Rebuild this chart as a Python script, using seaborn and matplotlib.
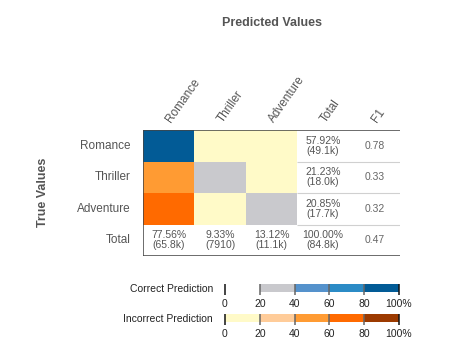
import numpy as np
import pandas as pd
import matplotlib
matplotlib.use("Agg")
import matplotlib.pyplot as plt
import seaborn as sns
from matplotlib.colors import ListedColormap
from matplotlib.transforms import ScaledTranslation

# ---------------- data ----------------
classes = ['Romance', 'Thriller', 'Adventure']
# confusion counts (rows = true, cols = predicted)
romance_row = [45000, 1200, 2910]
thriller_row = [10120, 4300, 3580]
adventure_row = [10680, 2410, 4610]
row_pct = ['57.92%', '21.23%', '20.85%']
row_n = ['(49.1k)', '(18.0k)', '(17.7k)']
col_pct = ['77.56%', '9.33%', '13.12%', '100.00%']
col_n = ['(65.8k)', '(7910)', '(11.1k)', '(84.8k)']
f1_scores = ['0.78', '0.33', '0.32', '0.47']
legend_ticks = [0, 20, 40, 60, 80, 100]

correct_colors = ['#ffffff', '#c9c9cd', '#5592cc', '#2b8bc6', '#025b96']
incorrect_colors = ['#fffac8', '#ffcc99', '#ff9b33', '#ff6a00', '#9c3a00']

sns.set_style("white")
plt.rcParams['font.family'] = ['Liberation Sans', 'DejaVu Sans']

cm = np.array([romance_row, thriller_row, adventure_row], dtype=float)
pct = cm / cm.sum(axis=1, keepdims=True) * 100
bins = np.minimum(pct // 20, 4).astype(int)
idx = np.where(np.eye(3, dtype=bool), bins, bins + 5)

# 4x5 grid: matrix + Total column + F1 column + Total row
grid = np.full((4, 5), np.nan)
grid[:3, :3] = idx
df = pd.DataFrame(grid, index=classes + ['Total'],
                  columns=classes + ['Total', 'F1'])

fig = plt.figure(figsize=(4.7, 3.53), dpi=100)
ax = fig.add_axes([143 / 470, 1 - 256 / 353, 257 / 470, 126 / 353])
cmap = ListedColormap(correct_colors + incorrect_colors)
sns.heatmap(df, mask=np.isnan(grid), cmap=cmap, vmin=-0.5, vmax=9.5,
            cbar=False, linewidths=0, ax=ax)

txt = '#555555'
# row totals and F1
for i in range(3):
    ax.text(3.5, i + 0.5, row_pct[i] + '\n' + row_n[i], ha='center',
            va='center', fontsize=7.5, color=txt, linespacing=0.95)
for i in range(4):
    ax.text(4.5, i + 0.5, f1_scores[i], ha='center', va='center',
            fontsize=7.5, color='#666666')
for j in range(4):
    ax.text(j + 0.5, 3.5, col_pct[j] + '\n' + col_n[j], ha='center',
            va='center', fontsize=7.5, color=txt, linespacing=0.95)

# borders
ax.hlines([1, 2, 3], 3, 5, color='#d0d0d0', lw=0.8)
ax.hlines([0, 4], 0, 5, color='#444444', lw=1.1)
ax.vlines(0, 0, 4, color='#444444', lw=1.1)

ax.xaxis.tick_top()
ax.set_xticks(np.arange(5) + 0.5)
ax.set_xticklabels(df.columns, rotation=55, ha='left', va='center',
                   rotation_mode='anchor', fontsize=8.5, color=txt)
shift = ScaledTranslation(-6 / 100, 0, fig.dpi_scale_trans)
for lbl in ax.get_xticklabels():
    lbl.set_transform(lbl.get_transform() + shift)
ax.set_yticklabels(df.index, rotation=0, fontsize=8.5, color=txt)
ax.tick_params(length=0)
ax.tick_params(axis='x', pad=6)
ax.tick_params(axis='y', pad=9)
ax.set_xlabel('')
ax.set_ylabel('')
for s in ax.spines.values():
    s.set_visible(False)

fig.text(272 / 470, 1 - 23 / 353, 'Predicted Values', ha='center',
         va='center', fontsize=9, fontweight='bold', color=txt)
fig.text(43 / 470, 1 - 192 / 353, 'True Values', ha='center', va='center',
         rotation=90, fontsize=9, fontweight='bold', color=txt)

# legend bars
def legend_bar(y_top, colors, label, blank_first=False):
    lax = fig.add_axes([225 / 470, 1 - (y_top + 8) / 353, 174 / 470, 8 / 353])
    for k, c in enumerate(colors):
        if blank_first and k == 0:
            continue
        lax.barh(0.5, 20, left=legend_ticks[k], height=1, color=c,
                 edgecolor='none')
    lax.set_xlim(0, 100)
    lax.set_ylim(0, 1)
    for t in legend_ticks:
        col = '#111111' if t in (0, 100) else '#666666'
        lax.vlines(t, -0.4, 1, color=col, lw=1.1, clip_on=False)
    lax.set_xticks(legend_ticks)
    lax.set_xticklabels(['0', '20', '40', '60', '80', '100%'], fontsize=7.5,
                        color='#222222')
    lax.set_yticks([])
    lax.tick_params(length=0, pad=5)
    for s in lax.spines.values():
        s.set_visible(False)
    fig.text(213 / 470, 1 - (y_top + 5) / 353, label, ha='right',
             va='center', fontsize=7.5, color='#222222')

legend_bar(284, correct_colors, 'Correct Prediction', blank_first=True)
legend_bar(314, incorrect_colors, 'Incorrect Prediction')

fig.savefig('out.png', dpi=100)
